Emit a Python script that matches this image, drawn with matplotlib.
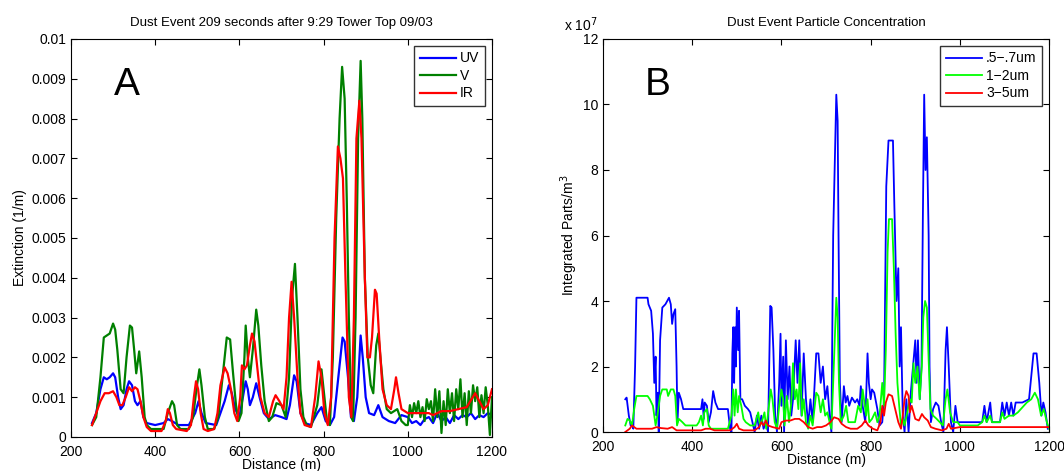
import matplotlib
matplotlib.use("Agg")
import matplotlib.pyplot as plt
from matplotlib.ticker import FuncFormatter

plt.rcParams['font.family'] = ['Liberation Sans', 'DejaVu Sans']

# ---------- panel A: extinction (units of 1e-3 1/m) ----------
uv_x = [250, 260, 270, 278, 285, 292, 300, 305, 312, 318, 325, 332, 338, 345, 352, 358, 365, 372, 380,
        400, 420, 430, 440, 455, 480, 495, 503, 510, 520, 545, 555, 565, 575, 582, 590, 600, 605, 615,
        620, 625, 632, 640, 648, 658, 670, 685, 700, 712, 720, 730, 736, 745, 755, 770, 785, 795, 805,
        815, 825, 835, 845, 850, 858, 865, 872, 880, 888, 893, 900, 908, 920, 930, 940, 955, 970, 985,
        1000, 1010, 1020, 1030, 1040, 1050, 1060, 1070, 1080, 1090, 1100, 1110, 1120, 1130, 1140, 1150,
        1160, 1170, 1180, 1190, 1200]
uv_y = [0.35, 0.6, 1.2, 1.5, 1.45, 1.5, 1.6, 1.5, 1.0, 0.7, 0.8, 1.2, 1.4, 1.3, 0.9, 0.8, 0.9, 0.5, 0.35,
        0.3, 0.35, 0.45, 0.4, 0.3, 0.3, 0.6, 0.9, 0.6, 0.35, 0.3, 0.6, 0.9, 1.3, 1.1, 0.7, 0.5, 0.8, 1.4,
        1.2, 0.8, 1.0, 1.35, 1.0, 0.6, 0.45, 0.55, 0.5, 0.45, 0.8, 1.55, 1.4, 0.6, 0.35, 0.3, 0.6, 0.75, 0.4,
        0.3, 0.5, 1.5, 2.5, 2.4, 1.5, 0.5, 0.4, 1.0, 2.55, 2.0, 1.0, 0.6, 0.55, 0.8, 0.5, 0.4, 0.35, 0.55,
        0.5, 0.35, 0.4, 0.3, 0.45, 0.5, 0.35, 0.6, 0.4, 0.5, 0.35, 0.55, 0.45, 0.55, 0.5, 0.6,
        0.45, 0.55, 0.5, 0.6, 0.55]

v_x = [250, 260, 270, 278, 285, 292, 300, 305, 310, 318, 325, 332, 340, 345, 350, 355, 362, 368, 375,
       380, 390, 420, 430, 440, 445, 452, 460, 480, 490, 498, 505, 510, 518, 525, 540, 550, 560, 570,
       578, 585, 592, 598, 605, 612, 615, 620, 625, 632, 640, 645, 652, 660, 670, 678, 688, 700, 710,
       718, 725, 732, 738, 745, 752, 760, 770, 785, 795, 800, 808, 815, 822, 830, 838, 844, 850, 855,
       860, 866, 870, 876, 882, 888, 892, 898, 905, 912, 918, 925, 930, 935, 942, 950, 960, 975, 985,
       995, 1000, 1005, 1010, 1015, 1020, 1025, 1030, 1035, 1040, 1045, 1050, 1055, 1060, 1065, 1070,
       1075, 1080, 1085, 1090, 1095, 1100, 1105, 1110, 1115, 1120, 1125, 1130, 1135, 1140, 1145, 1150,
       1155, 1160, 1165, 1170, 1175, 1180, 1185, 1190, 1195, 1200]
v_y = [0.3, 0.5, 1.5, 2.5, 2.55, 2.6, 2.85, 2.7, 2.2, 1.2, 1.1, 2.0, 2.8, 2.75, 2.2, 1.6, 2.15, 1.5, 0.5,
       0.3, 0.2, 0.2, 0.6, 0.9, 0.8, 0.3, 0.2, 0.2, 0.5, 1.2, 1.7, 1.3, 0.5, 0.2, 0.2, 0.5, 1.5, 2.5,
       2.45, 1.6, 0.8, 0.4, 0.6, 2.0, 2.8, 2.0, 1.5, 2.2, 3.2, 2.8, 1.8, 0.9, 0.4, 0.5, 0.85, 0.8, 0.5,
       1.5, 3.5, 4.35, 3.0, 1.2, 0.5, 0.3, 0.25, 0.8, 1.7, 1.2, 0.4, 0.3, 2.0, 5.5, 8.0, 9.3, 8.5, 6.0,
       3.0, 0.5, 0.4, 3.0, 7.5, 9.45, 8.0, 4.0, 2.0, 1.3, 1.1, 2.3, 2.6, 2.0, 1.2, 0.7, 0.6, 0.7, 0.4,
       0.3, 0.3, 0.8, 0.5, 0.85, 0.6, 0.9, 0.5, 0.75, 0.4, 0.95, 0.7, 0.9, 0.4, 1.2, 0.5,
       1.15, 0.1, 0.9, 0.3, 1.2, 0.6, 1.1, 0.4, 1.2, 0.7, 1.45, 0.5, 1.1, 0.3, 1.15, 0.6,
       1.3, 0.9, 1.25, 0.5, 1.05, 0.6, 1.25, 0.8, 0.05, 1.0]

ir_x = [250, 260, 270, 280, 290, 300, 308, 315, 322, 330, 338, 345, 352, 358, 365, 372, 380, 390, 415,
        425, 430, 435, 442, 450, 475, 485, 492, 497, 502, 508, 515, 525, 540, 548, 555, 565, 572, 580,
        588, 595, 602, 606, 612, 618, 625, 630, 636, 642, 650, 660, 670, 680, 686, 695, 705, 712, 718,
        724, 730, 738, 745, 755, 770, 780, 788, 795, 802, 810, 818, 826, 834, 840, 846, 852, 860, 866,
        872, 878, 885, 890, 898, 904, 910, 915, 922, 926, 932, 940, 950, 960, 968, 972, 978, 985, 1000,
        1050, 1060, 1080, 1100, 1120, 1140, 1160, 1170, 1180, 1190, 1200]
ir_y = [0.3, 0.6, 0.9, 1.1, 1.1, 1.15, 1.0, 0.8, 0.8, 1.0, 1.25, 1.15, 1.25, 1.2, 0.9, 0.5, 0.25, 0.15, 0.15,
        0.4, 0.7, 0.6, 0.3, 0.2, 0.15, 0.3, 1.0, 1.4, 1.2, 0.6, 0.2, 0.15, 0.2, 0.6, 1.3, 1.75, 1.6, 1.2,
        0.6, 0.4, 1.0, 1.8, 1.7, 1.8, 2.3, 2.6, 2.4, 1.8, 1.0, 0.6, 0.5, 0.9, 1.05, 0.9, 0.7, 1.5, 3.0,
        3.9, 3.0, 1.5, 0.6, 0.3, 0.25, 1.0, 1.9, 1.5, 0.6, 0.3, 1.0, 5.0, 7.3, 7.0, 6.5, 4.0, 1.0, 0.5,
        3.0, 7.5, 8.45, 7.5, 4.0, 2.0, 2.0, 2.5, 3.7, 3.6, 2.5, 1.2, 0.8, 0.7, 1.2, 1.5, 1.1, 0.7, 0.6,
        0.6, 0.55, 0.65, 0.65, 0.7, 0.75, 1.1, 0.9, 0.7, 0.8, 1.2]

# ---------- panel B: particle concentration (units of 1e7 parts/m^3) ----------
p57_x = [250, 253, 258, 262, 265, 268, 272, 275, 300, 302, 308, 312, 315, 318, 320, 323, 325, 328, 333,
         340, 348, 352, 355, 358, 362, 365, 367, 370, 375, 380, 420, 423, 426, 428, 433, 437, 442, 447,
         452, 458, 480, 485, 488, 490, 492, 494, 496, 498, 500, 503, 505, 508, 512, 518, 525, 530, 535,
         540, 545, 550, 555, 560, 565, 570, 575, 578, 582, 586, 590, 595, 598, 600, 604, 606, 610, 614,
         618, 622, 626, 632, 636, 640, 645, 650, 655, 660, 665, 670, 678, 683, 688, 693, 698, 703, 708,
         712, 716, 720, 723, 726, 728, 731, 735, 740, 744, 748, 752, 758, 765, 770, 775, 778, 782, 788,
         793, 796, 800, 803, 808, 815, 820, 826, 830, 835, 840, 850, 853, 858, 862, 865, 868, 872, 876,
         880, 885, 890, 895, 900, 903, 906, 910, 914, 917, 920, 923, 926, 930, 932, 935, 940, 946, 952,
         958, 963, 968, 971, 975, 980, 985, 990, 995, 1000, 1050, 1055, 1060, 1068, 1072, 1090, 1095,
         1100, 1105, 1110, 1115, 1120, 1125, 1140, 1155, 1165, 1172, 1178, 1183, 1187, 1192, 1197]
p57_y = [1.0, 1.05, 0.5, 0.2, 0.3, 0.1, 2.0, 4.1, 4.1, 3.9, 3.7, 3.0, 1.5, 2.3, 0.5, 1.2, 0.0, 2.8, 3.8,
         3.9, 4.1, 3.9, 3.3, 3.6, 3.75, 2.0, 0.3, 1.2, 1.0, 0.7, 0.7, 1.0, 0.4, 0.9, 0.8, 0.3, 0.6, 1.25,
         0.9, 0.7, 0.7, 0.1, 0.0, 2.4, 3.2, 1.5, 3.2, 2.0, 3.8, 2.5, 3.7, 1.0, 1.0, 0.8, 0.7, 0.6, 0.3,
         0.0, 0.5, 0.1, 0.5, 0.1, 0.3, 0.0, 3.85, 3.8, 2.5, 0.5, 0.0, 1.5, 3.0, 0.8, 2.3, 0.0, 2.8, 1.0,
         2.0, 0.5, 1.0, 2.8, 1.5, 2.8, 0.5, 2.4, 1.0, 0.2, 1.0, 0.3, 2.4, 2.4, 1.5, 2.0, 1.0, 1.4, 0.5,
         0.0, 6.0, 8.5, 10.3, 9.5, 6.0, 1.5, 0.3, 1.4, 0.9, 1.1, 0.8, 1.05, 0.9, 1.0, 0.8, 1.4, 0.8, 0.3,
         2.4, 1.5, 1.0, 1.3, 1.2, 0.7, 0.2, 0.3, 1.0, 7.5, 8.9, 8.9, 7.0, 4.0, 5.0, 2.0, 3.2, 0.5, 0.0,
         1.0, 0.0, 1.2, 2.0, 2.8, 1.5, 2.8, 1.0, 2.0, 6.5, 10.3, 8.0, 9.0, 6.0, 2.0, 0.3, 0.7, 0.9, 0.8,
         0.3, 0.0, 2.5, 3.2, 2.0, 0.3, 0.0, 0.8, 0.3, 0.3, 0.3, 0.8, 0.3, 0.9, 0.3, 0.3, 0.9,
         0.5, 0.9, 0.5, 0.9, 0.5, 0.9, 0.9, 1.0, 2.4, 2.4, 1.5, 0.5, 0.9, 0.6, 0.1]

p12_x = [250, 255, 260, 265, 270, 275, 300, 305, 312, 318, 322, 328, 333, 343, 346, 352, 358, 362, 366,
         370, 378, 385, 410, 415, 420, 424, 427, 433, 437, 442, 480, 488, 492, 495, 498, 502, 505, 510,
         515, 520, 530, 540, 548, 552, 558, 562, 566, 572, 576, 580, 585, 590, 595, 600, 604, 607, 612,
         617, 622, 626, 630, 634, 638, 642, 646, 650, 655, 660, 665, 670, 678, 683, 688, 693, 698, 703,
         708, 712, 716, 720, 723, 726, 729, 733, 740, 745, 750, 758, 765, 772, 778, 782, 786, 790, 793,
         797, 803, 810, 815, 820, 826, 830, 834, 838, 841, 848, 852, 856, 860, 864, 868, 872, 876, 882,
         888, 892, 896, 900, 905, 910, 915, 918, 922, 926, 930, 934, 940, 948, 955, 962, 968, 972, 978,
         985, 995, 1000, 1040, 1050, 1055, 1060, 1068, 1072, 1090, 1095, 1100, 1110, 1120, 1130, 1150,
         1160, 1168, 1175, 1182, 1188, 1195, 1200]
p12_y = [0.2, 0.4, 0.35, 0.2, 0.7, 1.1, 1.1, 1.0, 0.8, 0.2, 0.5, 1.1, 1.3, 1.3, 1.1, 1.3, 1.3, 1.1, 0.2,
         0.4, 0.3, 0.2, 0.2, 0.3, 0.5, 0.2, 0.6, 0.7, 0.2, 0.1, 0.1, 0.5, 1.3, 0.5, 1.3, 0.6, 1.1, 0.8,
         0.4, 0.3, 0.2, 0.2, 0.6, 0.2, 0.4, 0.6, 0.1, 0.8, 1.3, 1.0, 0.3, 0.1, 0.8, 1.3, 1.0, 0.2, 1.1,
         0.3, 0.9, 2.1, 1.0, 1.3, 0.7, 2.1, 0.5, 1.0, 0.3, 0.1, 0.5, 0.2, 1.2, 1.1, 0.6, 1.0, 0.5, 0.6,
         0.3, 0.1, 1.5, 3.0, 4.1, 3.5, 1.5, 0.3, 0.5, 0.8, 0.3, 0.3, 0.3, 0.8, 0.6, 1.3, 0.9, 0.5, 1.0,
         0.3, 0.4, 0.6, 0.3, 0.5, 1.5, 0.8, 2.5, 5.5, 6.5, 6.5, 5.0, 3.0, 1.5, 0.8, 0.2, 0.4, 0.2, 0.6,
         1.0, 0.9, 2.1, 1.5, 2.0, 1.0, 2.1, 3.5, 4.0, 3.8, 2.2, 0.7, 0.5, 0.4, 0.3, 0.2, 1.0, 1.3, 0.6,
         0.3, 0.3, 0.2, 0.2, 0.3, 0.5, 0.3, 0.5, 0.3, 0.3, 0.6, 0.4, 0.5, 0.5, 0.6, 0.9,
         1.0, 1.2, 1.0, 0.5, 0.7, 0.3, 0.1]

p35_x = [250, 260, 265, 270, 275, 310, 320, 330, 345, 355, 365, 420, 430, 440, 450, 485, 495, 500, 505,
         515, 540, 550, 555, 560, 565, 570, 580, 595, 600, 610, 620, 630, 640, 650, 660, 670, 680, 690,
         700, 710, 718, 728, 735, 745, 755, 770, 780, 788, 795, 805, 815, 822, 826, 830, 834, 840, 848,
         855, 862, 868, 872, 876, 880, 885, 888, 892, 896, 900, 908, 915, 920, 928, 935, 945, 960, 970,
         975, 980, 1000, 1200]
p35_y = [0.0, 0.1, 0.2, 0.15, 0.1, 0.1, 0.15, 0.12, 0.1, 0.15, 0.05, 0.05, 0.1, 0.1, 0.05, 0.05, 0.15, 0.25, 0.1,
         0.05, 0.05, 0.15, 0.3, 0.2, 0.35, 0.2, 0.15, 0.1, 0.3, 0.35, 0.35, 0.4, 0.4, 0.3, 0.15, 0.1, 0.15, 0.15,
         0.2, 0.3, 0.45, 0.4, 0.25, 0.15, 0.1, 0.1, 0.2, 0.35, 0.2, 0.1, 0.05, 0.3, 0.8, 0.5, 0.9, 1.15, 1.1,
         0.7, 0.3, 0.1, 0.5, 1.0, 1.25, 1.1, 0.6, 0.8, 0.6, 0.4, 0.35, 0.55, 0.45, 0.35, 0.15, 0.1, 0.05, 0.1,
         0.25, 0.1, 0.15, 0.15]

fig = plt.figure(figsize=(10.64, 4.71), dpi=100)
axA = fig.add_axes([0.0667, 0.0722, 0.3957, 0.8450])
axB = fig.add_axes([0.5667, 0.0828, 0.4193, 0.8344])

# panel A
axA.plot(uv_x, [v * 1e-3 for v in uv_y], color=(0, 0, 1), lw=1.6, label='UV')
axA.plot(v_x, [v * 1e-3 for v in v_y], color=(0, 0.5, 0), lw=1.6, label='V')
axA.plot(ir_x, [v * 1e-3 for v in ir_y], color=(1, 0, 0), lw=1.6, label='IR')
axA.set_xlim(200, 1200)
axA.set_ylim(0, 0.01)
axA.set_yticks([i * 0.001 for i in range(11)])
axA.yaxis.set_major_formatter(FuncFormatter(lambda v, p: '%g' % round(v, 4)))
axA.set_title('Dust Event 209 seconds after 9:29 Tower Top 09/03', fontsize=9.5, pad=9)
axA.set_xlabel('Distance (m)', fontsize=10, labelpad=-1)
axA.set_ylabel('Extinction (1/m)', fontsize=10, labelpad=3)
axA.text(303, 0.0086, 'A', fontsize=28)
axA.legend(loc='upper right', fontsize=10, fancybox=False, edgecolor='black',
           borderaxespad=0.5, handlelength=2.6, handletextpad=0.3, labelspacing=0.25)

# panel B (values drawn in units of 1e7, offset shown as text like MATLAB)
axB.plot(p57_x, p57_y, color=(0, 0, 1), lw=1.3, label='.5\u2212.7um')
axB.plot(p12_x, p12_y, color=(0, 1, 0), lw=1.3, label='1\u22122um')
axB.plot(p35_x, p35_y, color=(1, 0, 0), lw=1.3, label='3\u22125um')
axB.set_xlim(200, 1200)
axB.set_ylim(0, 12)
axB.set_yticks(range(0, 13, 2))
axB.text(-0.088, 1.012, 'x 10$^{7}$', transform=axB.transAxes, fontsize=10, va='bottom')
axB.set_title('Dust Event Particle Concentration', fontsize=9.5, pad=9)
axB.set_xlabel('Distance (m)', fontsize=10, labelpad=-1)
axB.set_ylabel('Integrated Parts/m$^3$', fontsize=10, labelpad=2)
axB.text(293, 10.3, 'B', fontsize=28)
axB.legend(loc='upper right', fontsize=10, fancybox=False, edgecolor='black',
           borderaxespad=0.5, handlelength=2.6, handletextpad=0.3, labelspacing=0.25)

for ax in (axA, axB):
    ax.tick_params(direction='in', top=True, right=True, labelsize=10, length=4)
    ax.tick_params(axis='x', pad=6)
    for s in ax.spines.values():
        s.set_linewidth(0.8)

fig.savefig('out.png', dpi=100)
